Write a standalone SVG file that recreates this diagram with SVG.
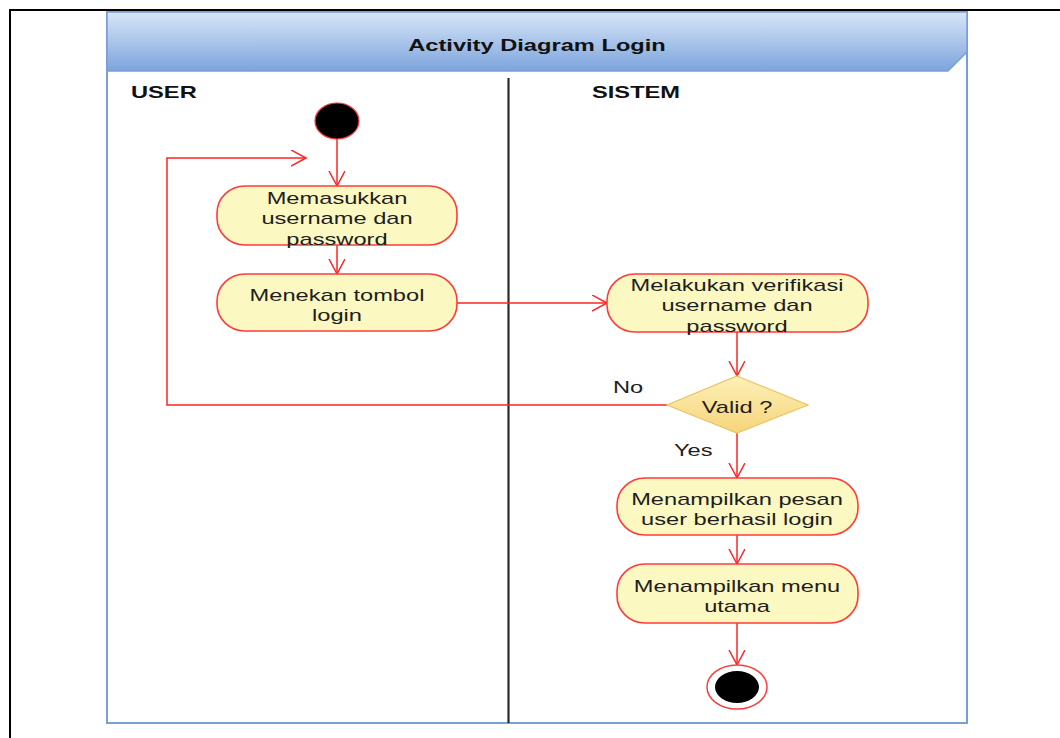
<svg xmlns="http://www.w3.org/2000/svg" width="1060" height="738" viewBox="0 0 1060 738">
  <style>
    .frame { fill: #ffffff; stroke: #7a9fd6; stroke-width: 2; }
    .lane { stroke: #2a2a2a; stroke-width: 2.2; }
    .act { fill: #fcf8c2; stroke: #ff3b3b; stroke-width: 1.6; }
    .flow { fill: none; stroke: #ff2424; stroke-width: 1.5; }
    .lbl { font-family: "Liberation Sans", Arial, sans-serif; font-size: 16px; fill: #1e1e1e; text-anchor: middle; }
    .hdr { font-family: "Liberation Sans", Arial, sans-serif; font-size: 16px; font-weight: bold; fill: #111111; }
    .free { font-family: "Liberation Sans", Arial, sans-serif; font-size: 16px; fill: #1e1e1e; }
  </style>
  <defs>
    <linearGradient id="titleGrad" x1="0" y1="0" x2="0" y2="1">
      <stop offset="0" stop-color="#d8e6f8"/>
      <stop offset="1" stop-color="#7ca4dc"/>
    </linearGradient>
    <linearGradient id="decGrad" x1="0" y1="0" x2="0" y2="1">
      <stop offset="0" stop-color="#fdf0b8"/>
      <stop offset="1" stop-color="#f6d57a"/>
    </linearGradient>
    <marker id="open" markerUnits="userSpaceOnUse" markerWidth="18" markerHeight="18" refX="15" refY="8" orient="auto">
      <path d="M0,0 L15,8 L0,16" fill="none" stroke="#ff2424" stroke-width="1.5"/>
    </marker>
  </defs>

  <rect width="1060" height="738" fill="#ffffff"/>

  <!-- page cell border -->
  <line x1="9" y1="10" x2="1060" y2="10" stroke="#000" stroke-width="2"/>
  <line x1="10" y1="9" x2="10" y2="738" stroke="#000" stroke-width="2"/>

  <!-- diagram frame with title bar -->
  <g id="frame">
    <rect class="frame" x="107" y="12" width="860" height="711"/>
    <path d="M107,12 H967 V52 L948,71 H107 Z" fill="url(#titleGrad)" stroke="#7a9fd6" stroke-width="1.5"/>
    <text class="hdr" transform="translate(537,51) scale(1.48,1)" text-anchor="middle">Activity Diagram Login</text>
  </g>

  <!-- swimlanes -->
  <g id="lanes">
    <line class="lane" x1="508.5" y1="78" x2="508.5" y2="723"/>
    <text class="hdr" transform="translate(131,98) scale(1.48,1)">USER</text>
    <text class="hdr" transform="translate(592,98) scale(1.48,1)">SISTEM</text>
  </g>

  <!-- connectors -->
  <g id="connectors">
    <path class="flow" d="M337,139 L337,186" marker-end="url(#open)"/>
    <path class="flow" d="M337,245 L337,274" marker-end="url(#open)"/>
    <path class="flow" d="M457,303 L607,303" marker-end="url(#open)"/>
    <path class="flow" d="M737,332 L737,376" marker-end="url(#open)"/>
    <path class="flow" d="M667,405 L167,405 L167,158 L306,158" marker-end="url(#open)"/>
    <path class="flow" d="M737,433 L737,478" marker-end="url(#open)"/>
    <path class="flow" d="M737,535 L737,564" marker-end="url(#open)"/>
    <path class="flow" d="M737,623 L737,665" marker-end="url(#open)"/>
    <text class="free" transform="translate(613,393) scale(1.48,1)">No</text>
    <text class="free" transform="translate(674,456) scale(1.48,1)">Yes</text>
  </g>

  <!-- start -->
  <g id="start">
    <ellipse cx="337" cy="121" rx="22" ry="18" fill="#000" stroke="#ff3b3b" stroke-width="1.2"/>
  </g>

  <!-- user actions -->
  <g id="input-credentials">
    <rect class="act" x="217" y="186" width="240" height="59" rx="28" ry="27"/>
    <text class="lbl" transform="translate(337,204) scale(1.48,1)"><tspan x="0">Memasukkan</tspan><tspan x="0" dy="20.5">username dan</tspan><tspan x="0" dy="20.5">password</tspan></text>
  </g>
  <g id="press-login">
    <rect class="act" x="217" y="274" width="240" height="57" rx="28" ry="27"/>
    <text class="lbl" transform="translate(337,301) scale(1.48,1)"><tspan x="0">Menekan tombol</tspan><tspan x="0" dy="20.5">login</tspan></text>
  </g>

  <!-- system actions -->
  <g id="verify">
    <rect class="act" x="607" y="274" width="261" height="58" rx="28" ry="27"/>
    <text class="lbl" transform="translate(737,291) scale(1.48,1)"><tspan x="0">Melakukan verifikasi</tspan><tspan x="0" dy="20.5">username dan</tspan><tspan x="0" dy="20.5">password</tspan></text>
  </g>
  <g id="valid-decision">
    <polygon points="737,376 808,405 737,433 667,405" fill="url(#decGrad)" stroke="#e9c463" stroke-width="1.2"/>
    <text class="lbl" transform="translate(737,413) scale(1.48,1)">Valid ?</text>
  </g>
  <g id="show-success">
    <rect class="act" x="617" y="478" width="241" height="57" rx="28" ry="27"/>
    <text class="lbl" transform="translate(737,505) scale(1.48,1)"><tspan x="0">Menampilkan pesan</tspan><tspan x="0" dy="20.5">user berhasil login</tspan></text>
  </g>
  <g id="show-menu">
    <rect class="act" x="617" y="564" width="241" height="59" rx="28" ry="27"/>
    <text class="lbl" transform="translate(737,592) scale(1.48,1)"><tspan x="0">Menampilkan menu</tspan><tspan x="0" dy="20.5">utama</tspan></text>
  </g>

  <!-- end -->
  <g id="end">
    <ellipse cx="737" cy="687" rx="30" ry="22" fill="#fff" stroke="#ff3b3b" stroke-width="1.5"/>
    <ellipse cx="737" cy="687" rx="22" ry="16" fill="#000"/>
  </g>
</svg>
